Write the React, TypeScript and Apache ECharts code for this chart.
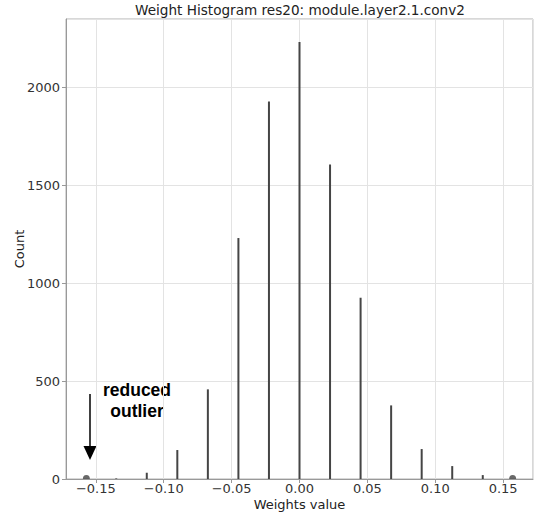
import React, { useEffect, useRef } from "react";
import * as echarts from "echarts";

const titleText = "Weight Histogram res20: module.layer2.1.conv2";
const binCenters = [-0.157, -0.135, -0.1125, -0.09, -0.0675, -0.045, -0.0225, 0, 0.0225, 0.045, 0.0675, 0.09, 0.1125, 0.135, 0.157];
const counts = [0, 3, 32, 148, 458, 1231, 1928, 2233, 1607, 926, 376, 153, 66, 20, 0];
const outlierX = [-0.157, 0.157];
const outlierY = [0, 0];
const xMin = -0.172;
const xMax = 0.172;
const yMax = 2350;
const annotationLines = ["reduced", "outlier"];

const FONT = "DejaVu Sans";

export default function App() {
  const ref = useRef<HTMLDivElement>(null);
  useEffect(() => {
    const chart = echarts.init(ref.current!, null, { renderer: "svg" });
    const semi = "path://M0,10 A10,10 0 0 1 20,10 Z";
    const annStyle = {
      fontFamily: "Liberation Sans",
      fontWeight: "bold",
      fontSize: 17.5,
      fill: "#000",
      textAlign: "center",
      textVerticalAlign: "middle",
    };
    chart.setOption({
      animation: false,
      backgroundColor: "#ffffff",
      title: {
        text: titleText,
        left: 300,
        top: 3,
        padding: 0,
        textAlign: "center",
        textStyle: { fontFamily: FONT, fontSize: 13.6, fontWeight: "normal", color: "#222" },
      },
      grid: {
        left: 66,
        right: 2,
        top: 19,
        bottom: 35,
        show: true,
        borderColor: "#b0b0b0",
        borderWidth: 1,
        backgroundColor: "transparent",
        containLabel: false,
        outerBoundsMode: "none",
      },
      xAxis: {
        type: "value",
        min: xMin,
        max: xMax,
        splitNumber: 7,
        name: "Weights value",
        nameLocation: "middle",
        nameGap: 18.5,
        nameMoveOverlap: false,
        nameTextStyle: { fontFamily: FONT, fontSize: 13, color: "#222" },
        axisLine: { show: true, onZero: false, lineStyle: { color: "#999" } },
        axisTick: { show: true, length: 4, lineStyle: { color: "#999" } },
        axisLabel: {
          showMinLabel: false,
          showMaxLabel: false,
          fontFamily: FONT,
          fontSize: 13,
          color: "#333",
          margin: 2.5,
          formatter: (v: number) => {
            const s = v.toFixed(2);
            if (s === "-0.00") return "0.00";
            return s.startsWith("-") ? "\u2212" + s.slice(1) : s;
          },
        },
        splitLine: { show: true, lineStyle: { color: "#e3e3e3" } },
      },
      yAxis: {
        type: "value",
        min: 0,
        max: yMax,
        interval: 500,
        name: "Count",
        nameLocation: "middle",
        nameGap: 40,
        nameMoveOverlap: false,
        nameTextStyle: { fontFamily: FONT, fontSize: 13, color: "#222" },
        axisLine: { show: true, onZero: false, lineStyle: { color: "#999" } },
        axisTick: { show: true, length: 4, lineStyle: { color: "#999" } },
        axisLabel: {
          showMaxLabel: false,
          fontFamily: FONT,
          fontSize: 13,
          color: "#333",
          margin: 6,
          formatter: (v: number) => String(v),
        },
        splitLine: { show: true, lineStyle: { color: "#e3e3e3" } },
      },
      series: [
        {
          type: "bar",
          barWidth: 2,
          itemStyle: { color: "#454545" },
          data: binCenters.map((x, i) => [x, counts[i]]),
          z: 3,
        },
        {
          type: "scatter",
          symbol: semi,
          symbolSize: [7, 4],
          symbolOffset: [0, -2],
          itemStyle: { color: "#444" },
          data: outlierX.map((x, i) => [x, outlierY[i]]),
          z: 4,
        },
      ],
      graphic: [
        {
          type: "line",
          shape: { x1: 90, y1: 394, x2: 90, y2: 447 },
          style: { stroke: "#000", lineWidth: 1.5 },
        },
        {
          type: "polygon",
          shape: { points: [[83.5, 446], [96.5, 446], [90, 460]] },
          style: { fill: "#000" },
        },
        {
          type: "text",
          x: 137,
          y: 390,
          style: { ...annStyle, text: annotationLines[0] },
        },
        {
          type: "text",
          x: 137,
          y: 410.5,
          style: { ...annStyle, text: annotationLines[1] },
        },
      ],
    });
    return () => chart.dispose();
  }, []);
  return (
    <div
      ref={ref}
      style={{ position: "fixed", left: 0, top: 0, width: 535, height: 514, background: "#fff" }}
    />
  );
}
